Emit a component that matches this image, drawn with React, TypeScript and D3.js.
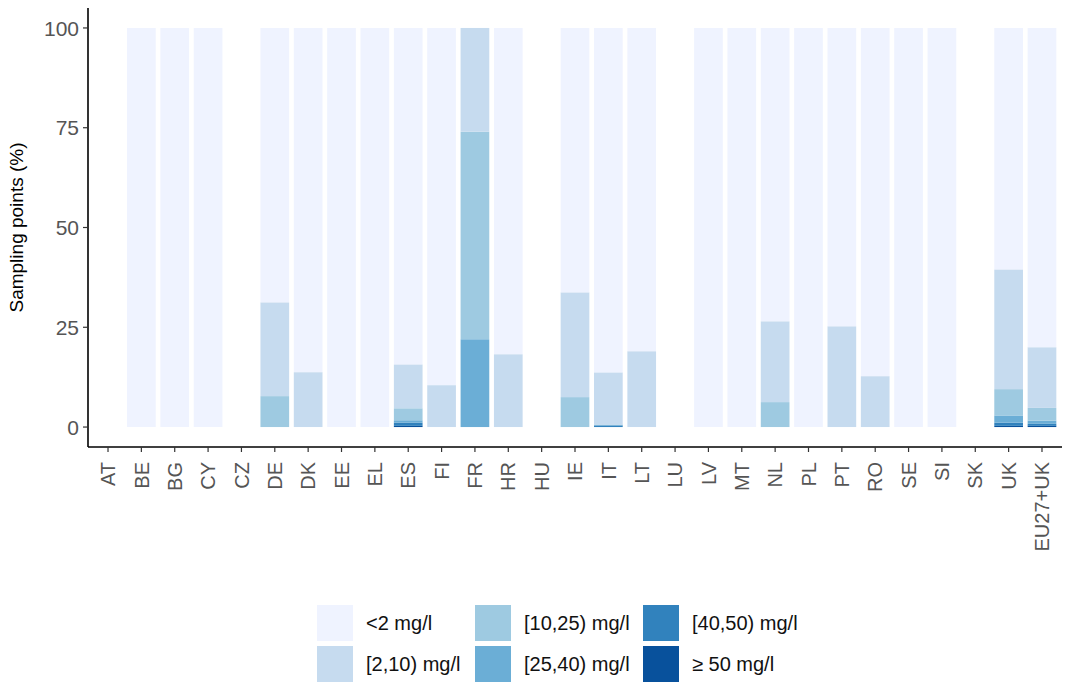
import React from 'react';
import * as d3 from 'd3';

// countries on the x axis
const countries = [
  'AT', 'BE', 'BG', 'CY', 'CZ', 'DE', 'DK', 'EE', 'EL', 'ES',
  'FI', 'FR', 'HR', 'HU', 'IE', 'IT', 'LT', 'LU', 'LV', 'MT',
  'NL', 'PL', 'PT', 'RO', 'SE', 'SI', 'SK', 'UK', 'EU27+UK',
];

// share of sampling points (%) per class, same order as countries
const ge50 = [0, 0, 0, 0, 0, 0, 0, 0, 0, 0.3, 0, 0, 0, 0, 0, 0, 0, 0, 0, 0, 0, 0, 0, 0, 0, 0, 0, 0.3, 0.3];
const c40to50 = [0, 0, 0, 0, 0, 0, 0, 0, 0, 0.8, 0, 0, 0, 0, 0, 0.4, 0, 0, 0, 0, 0, 0, 0, 0, 0, 0, 0, 0.8, 0.5];
const c25to40 = [0, 0, 0, 0, 0, 0, 0, 0, 0, 0.6, 0, 22, 0, 0, 0, 0.2, 0, 0, 0, 0, 0, 0, 0, 0, 0, 0, 0, 1.8, 0.8];
const c10to25 = [0, 0, 0, 0, 0, 7.75, 0, 0, 0, 3, 0, 52, 0, 0, 7.5, 0, 0, 0, 0, 0, 6.25, 0, 0, 0, 0, 0, 0, 6.6, 3.2];
const c2to10 = [0, 0, 0, 0, 0, 23.5, 13.75, 0, 0, 11, 10.5, 26, 18.25, 0, 26.25, 13.1, 19, 0, 0, 0, 20.25, 0, 25.25, 12.75, 0, 0, 0, 30, 15.2];
const lt2 = [0, 100, 100, 100, 0, 68.75, 86.25, 100, 100, 84.3, 89.5, 0, 81.75, 0, 66.25, 86.3, 81, 0, 100, 100, 73.5, 100, 74.75, 87.25, 100, 100, 0, 60.5, 80];

// stacking order bottom -> top
const classKeys = ['ge50', 'c40to50', 'c25to40', 'c10to25', 'c2to10', 'lt2'];
const classLabels: Record<string, string> = {
  lt2: '<2 mg/l',
  c2to10: '[2,10) mg/l',
  c10to25: '[10,25) mg/l',
  c25to40: '[25,40) mg/l',
  c40to50: '[40,50) mg/l',
  ge50: '\u2265 50 mg/l',
};
const classColors: Record<string, string> = {
  lt2: '#eff3ff',
  c2to10: '#c6dbef',
  c10to25: '#9ecae1',
  c25to40: '#6baed6',
  c40to50: '#3182bd',
  ge50: '#08519c',
};
// legend layout: column-major, 2 rows
const legendOrder = ['lt2', 'c2to10', 'c10to25', 'c25to40', 'c40to50', 'ge50'];
const yTicks = [0, 25, 50, 75, 100];

const W = 1067;
const H = 689;
const FONT = '"Liberation Sans", Arial, sans-serif';

export default function App() {
  const left = 88;
  const right = 1062;
  const top = 8;
  const bottom = 447;

  const rows = countries.map((c, i) => ({
    country: c,
    ge50: ge50[i],
    c40to50: c40to50[i],
    c25to40: c25to40[i],
    c10to25: c10to25[i],
    c2to10: c2to10[i],
    lt2: lt2[i],
  }));

  const x = d3.scalePoint<string>().domain(countries).range([left, right]).padding(0.6);
  const y = d3.scaleLinear().domain([-5, 105]).range([bottom, top]);
  const bw = x.step() * 0.86;

  const series = d3.stack<any>().keys(classKeys)(rows);

  const legendX = [317, 475, 643];
  const legendY = [605, 646];
  const key = 36;

  return (
    <svg width={W} height={H} style={{ position: 'absolute', left: 0, top: 0, background: '#fff' }} fontFamily={FONT}>
      {/* bars */}
      {series.map((s) => (
        <g key={s.key} fill={classColors[s.key]}>
          {s.map((d, i) =>
            d[1] - d[0] > 0 ? (
              <rect
                key={i}
                x={(x(countries[i]) as number) - bw / 2}
                y={y(d[1])}
                width={bw}
                height={y(d[0]) - y(d[1])}
              />
            ) : null
          )}
        </g>
      ))}

      {/* y axis */}
      <line x1={left} x2={left} y1={top} y2={bottom} stroke="#000" strokeWidth={1.6} />
      {yTicks.map((t) => (
        <g key={t} transform={`translate(0,${y(t)})`}>
          <line x1={left - 5} x2={left} stroke="#333" strokeWidth={1.2} />
          <text x={left - 9} dy="0.36em" textAnchor="end" fontSize={21} fill="#555">
            {t}
          </text>
        </g>
      ))}
      <text
        transform={`translate(23,${(y(0) + y(100)) / 2}) rotate(-90)`}
        textAnchor="middle"
        fontSize={19}
        fill="#000"
      >
        Sampling points (%)
      </text>

      {/* x axis */}
      <line x1={left} x2={right} y1={bottom} y2={bottom} stroke="#000" strokeWidth={1.6} />
      {countries.map((c) => (
        <g key={c} transform={`translate(${x(c)},${bottom})`}>
          <line y1={0} y2={5} stroke="#333" strokeWidth={1.2} />
          <text
            transform="translate(0,15) rotate(-90)"
            dy="0.36em"
            textAnchor="end"
            fontSize={20}
            fill="#555"
          >
            {c}
          </text>
        </g>
      ))}

      {/* legend */}
      {legendOrder.map((k, i) => {
        const col = Math.floor(i / 2);
        const row = i % 2;
        const lx = legendX[col];
        const ly = legendY[row];
        return (
          <g key={k}>
            <rect x={lx} y={ly} width={key} height={key} fill={classColors[k]} />
            <text x={lx + key + 13} y={ly + key / 2} dy="0.36em" fontSize={20} fill="#111">
              {classLabels[k]}
            </text>
          </g>
        );
      })}
    </svg>
  );
}
